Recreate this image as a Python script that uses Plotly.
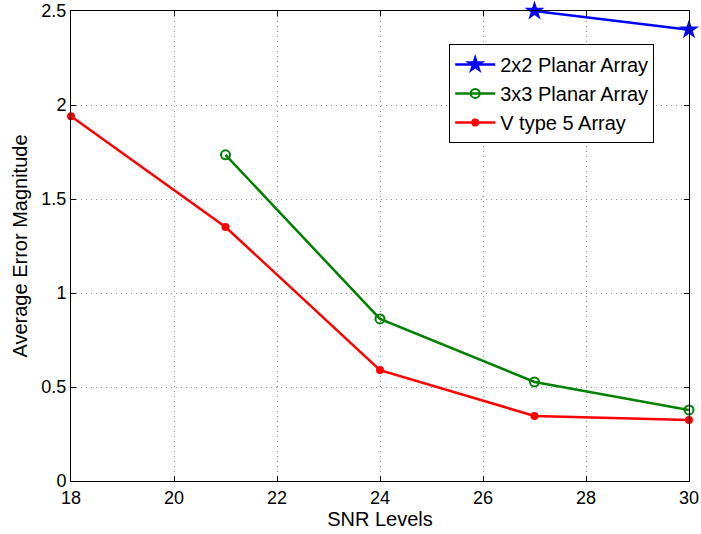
import plotly.graph_objects as go

snr_2x2 = [27, 30]
err_2x2 = [2.50, 2.40]
snr_3x3 = [21, 24, 27, 30]
err_3x3 = [1.735, 0.862, 0.527, 0.378]
snr_v5 = [18, 21, 24, 27, 30]
err_v5 = [1.94, 1.351, 0.590, 0.346, 0.324]

x_ticks = [18, 20, 22, 24, 26, 28, 30]
y_ticks = [0, 0.5, 1, 1.5, 2, 2.5]
y_tick_text = ["0", "0.5", "1", "1.5", "2", "2.5"]

FONT = "Liberation Sans, Arial, Helvetica"

fig = go.Figure()
fig.add_trace(go.Scatter(x=snr_2x2, y=err_2x2, mode="lines+markers", name="2x2 Planar Array",
                         line=dict(color="#0000ff", width=2.5),
                         marker=dict(symbol="star", size=15, color="#0000ff"),
                         cliponaxis=False))
fig.add_trace(go.Scatter(x=snr_3x3, y=err_3x3, mode="lines+markers", name="3x3 Planar Array",
                         line=dict(color="#008000", width=2.5),
                         marker=dict(symbol="circle-open", size=9, color="#008000", line=dict(width=2)),
                         cliponaxis=False))
fig.add_trace(go.Scatter(x=snr_v5, y=err_v5, mode="lines+markers", name="V type 5 Array",
                         line=dict(color="#ff0000", width=2.5),
                         marker=dict(symbol="circle", size=8, color="#ff0000"),
                         cliponaxis=False))

axis_common = dict(showline=True, linecolor="black", linewidth=1, mirror="allticks",
                   ticks="inside", ticklen=5, tickcolor="black", automargin=False,
                   showgrid=True, gridcolor="#909090", griddash="1px,4px", gridwidth=1,
                   zeroline=False, tickfont=dict(family=FONT, size=18, color="black"))

fig.update_xaxes(range=[18, 30], tickvals=x_ticks, title=dict(text="SNR Levels", standoff=0,
                 font=dict(family=FONT, size=20, color="black")), **axis_common)
fig.update_yaxes(range=[0, 2.5], tickvals=y_ticks, ticktext=y_tick_text,
                 title=dict(text="Average Error Magnitude", standoff=8,
                 font=dict(family=FONT, size=20, color="black")), **axis_common)

fig.update_layout(width=701, height=534, margin=dict(l=71, r=12, t=11, b=53),
                  plot_bgcolor="white", paper_bgcolor="white",
                  font=dict(family=FONT, color="black"),
                  legend=dict(x=0.612, y=0.93, xanchor="left", yanchor="top",
                              bgcolor="white", bordercolor="black", borderwidth=1,
                              font=dict(family=FONT, size=20, color="black"), tracegroupgap=0,
                              itemwidth=40))

fig.write_html("out.html")
